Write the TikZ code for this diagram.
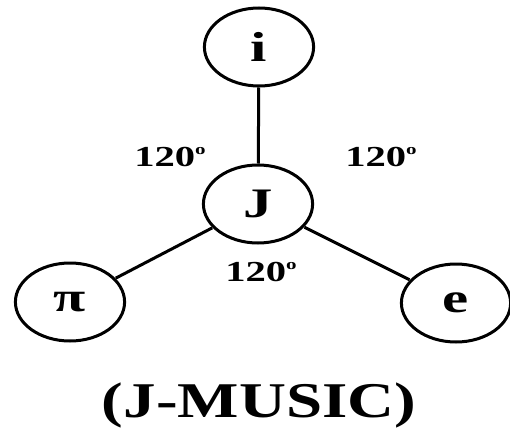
\documentclass[tikz,border=0pt]{standalone}
\usepackage{fontspec}
\setmainfont{Liberation Serif}
\newcommand{\degre}{\raisebox{0.42em}{\fontsize{15}{15}\selectfont o}}
\begin{document}
\begin{tikzpicture}[x=1pt,y=-1pt]
  \tikzstyle{v}=[circle,draw,line width=3pt,minimum size=78pt,inner sep=0pt,xscale=1.4,font=\fontsize{42}{42}\selectfont\bfseries]
  \tikzstyle{ang}=[inner sep=0pt,xscale=1.4,font=\fontsize{29}{29}\selectfont\bfseries]
  \tikzstyle{edge}=[line width=3pt]
  \useasboundingbox (0,0) rectangle (510,428);
  % Sommets
  \node[v] (i)  at (259,47)  {i};
  \node[v] (J)  at (258,204) {J};
  \node[v] (pi) at (70,302)  {π};
  \node[v] (e)  at (456,303) {e};
  % Aretes
  \draw[edge] (i)--(J);
  \draw[edge] (J)--(pi);
  \draw[edge] (J)--(e);
  % Angles
  \node[ang] (aG) at (170,157) {120\degre};
  \node[ang] (aD) at (381,157) {120\degre};
  \node[ang] (aB) at (261,272) {120\degre};
  % Titre
  \node[inner sep=0pt,xscale=1.3,font=\fontsize{50}{50}\selectfont\bfseries] (titre) at (259,405) {(J-MUSIC)};
\end{tikzpicture}
\end{document}
